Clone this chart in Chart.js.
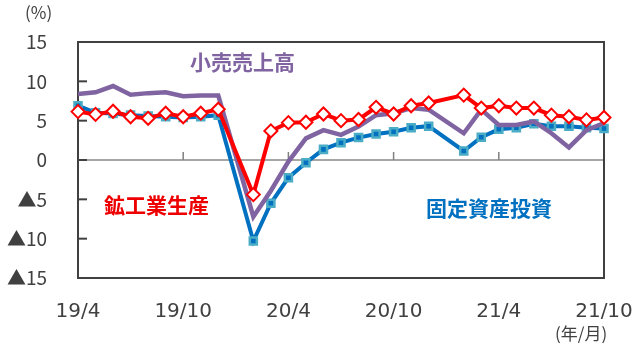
<!DOCTYPE html>
<html>
<head>
<meta charset="utf-8">
<script src="https://cdn.jsdelivr.net/npm/chart.js@4"></script>
<style>
  body { margin: 0; background: #fff; }
  canvas { display: block; }
</style>
</head>
<body>
<canvas id="chart" width="640" height="347"></canvas>
<script>
// 年/月 (2020/1 and 2021/1 are not published separately -> null)
const months = [
  '19/4', '19/5', '19/6', '19/7', '19/8', '19/9', '19/10', '19/11', '19/12',
  '20/1', '20/2', '20/3', '20/4', '20/5', '20/6', '20/7', '20/8', '20/9', '20/10', '20/11', '20/12',
  '21/1', '21/2', '21/3', '21/4', '21/5', '21/6', '21/7', '21/8', '21/9', '21/10'
];

// 鉱工業生産
const industry = [6.15, 5.8, 6.2, 5.5, 5.3, 5.95, 5.5, 5.95, 6.45,
  null, -4.4, 3.7, 4.75, 4.8, 5.85, 5.0, 5.15, 6.7, 5.85, 6.9, 7.25,
  null, 8.25, 6.6, 6.9, 6.6, 6.6, 5.7, 5.5, 5.1, 5.4];

// 小売売上高
const retail = [8.4, 8.6, 9.4, 8.3, 8.5, 8.6, 8.1, 8.2, 8.2,
  null, -7.2, -3.9, -0.2, 2.75, 3.8, 3.2, 4.25, 5.7, 5.95, 6.6, 6.4,
  null, 3.4, 6.4, 4.45, 4.45, 4.9, 3.4, 1.6, 3.8, 4.7];

// 固定資産投資
const investment = [6.9, 6.0, 5.9, 5.7, 5.6, 5.5, 5.4, 5.5, 5.7,
  null, -10.3, -5.5, -2.25, -0.35, 1.35, 2.2, 2.85, 3.3, 3.6, 4.1, 4.3,
  null, 1.15, 2.9, 3.9, 4.1, 4.6, 4.3, 4.3, 4.1, 4.0];

const yTicks = [-15, -10, -5, 0, 5, 10, 15];

const FONT = '"Noto Sans CJK JP", "Noto Sans", sans-serif';
const NUM_FONT = '"DejaVu Sans", "Noto Sans CJK JP", sans-serif';
const AXIS_COLOR = '#404040';

// frame, zero line and the little inside tick marks
const framePlugin = {
  id: 'frame',
  beforeDatasetsDraw(chart) {
    const { ctx, chartArea: a, scales } = chart;
    const y0 = scales.y.getPixelForValue(0);
    ctx.save();
    ctx.strokeStyle = '#a6a6a6';
    ctx.lineWidth = 2;
    ctx.beginPath();
    ctx.moveTo(a.left, y0);
    ctx.lineTo(a.right, y0);
    ctx.stroke();

    ctx.strokeStyle = '#808080';
    ctx.lineWidth = 1.5;
    months.forEach((m, i) => {
      if (i % 6 !== 0 || i === 0 || i === months.length - 1) return;
      const x = scales.x.getPixelForValue(i);
      ctx.beginPath();
      ctx.moveTo(x, y0);
      ctx.lineTo(x, y0 - 8);
      ctx.stroke();
    });

    ctx.strokeStyle = AXIS_COLOR;
    ctx.lineWidth = 2;
    yTicks.forEach(v => {
      if (v === 15 || v === -15) return;
      const y = scales.y.getPixelForValue(v);
      ctx.beginPath();
      ctx.moveTo(a.left, y);
      ctx.lineTo(a.left + 9, y);
      ctx.stroke();
    });
    ctx.strokeRect(a.left, a.top, a.right - a.left, a.bottom - a.top);
    ctx.restore();
  },
  afterDraw(chart) {
    const { ctx } = chart;
    ctx.save();
    ctx.textBaseline = 'middle';
    ctx.fillStyle = AXIS_COLOR;
    ctx.font = '17px ' + FONT;
    ctx.fillText('(%)', 25, 13);
    ctx.fillText('(年/月)', 555, 334);

    ctx.font = 'bold 21px ' + FONT;
    ctx.fillStyle = '#8064a2';
    ctx.fillText('小売売上高', 190, 62);
    ctx.fillStyle = '#ee0000';
    ctx.fillText('鉱工業生産', 104, 205);
    ctx.fillStyle = '#0070c0';
    ctx.fillText('固定資産投資', 426, 208);
    ctx.restore();
  }
};

new Chart(document.getElementById('chart'), {
  type: 'line',
  data: {
    labels: months,
    datasets: [
      {
        label: '鉱工業生産',
        data: industry,
        borderColor: '#ff0000',
        borderWidth: 4,
        pointStyle: 'rectRot',
        pointRadius: 6.5,
        pointBackgroundColor: '#ffffff',
        pointBorderColor: '#ff0000',
        pointBorderWidth: 2,
        spanGaps: true,
        tension: 0,
        clip: false,
      },
      {
        label: '小売売上高',
        data: retail,
        borderColor: '#8064a2',
        borderWidth: 4.5,
        pointRadius: 0,
        spanGaps: true,
        tension: 0,
        clip: false,
      },
      {
        label: '固定資産投資',
        data: investment,
        borderColor: '#0070c0',
        borderWidth: 4,
        pointStyle: 'rect',
        pointRadius: 5,
        pointBackgroundColor: '#0070c0',
        pointBorderColor: '#4bacc6',
        pointBorderWidth: 2.5,
        spanGaps: true,
        tension: 0,
        clip: false,
      },
    ],
  },
  options: {
    responsive: false,
    animation: false,
    layout: { padding: { top: 42, right: 36, left: 0, bottom: 0 } },
    plugins: {
      legend: { display: false },
      tooltip: { enabled: false },
    },
    scales: {
      x: {
        grid: { display: false, drawTicks: false },
        border: { display: false },
        ticks: {
          autoSkip: false,
          maxRotation: 0,
          padding: 22,
          color: AXIS_COLOR,
          font: { size: 20, family: NUM_FONT },
          callback: (v, i) => (i % 6 === 0 ? months[i] : ''),
        },
        afterFit: (s) => {
          s.height = 69;
          s.paddingLeft = 0;
          s.paddingRight = 0;
        },
      },
      y: {
        min: -15,
        max: 15,
        grid: { display: false, drawTicks: false },
        border: { display: false },
        afterBuildTicks: (s) => { s.ticks = yTicks.map(v => ({ value: v })); },
        ticks: {
          padding: 31,
          color: AXIS_COLOR,
          font: { size: 19, family: FONT },
          callback: (v) => (v < 0 ? '▲' + Math.abs(v) : String(v)),
        },
        afterFit: (s) => {
          s.width = 78;
          s.paddingTop = 0;
          s.paddingBottom = 0;
        },
      },
    },
  },
  plugins: [framePlugin],
});
</script>
</body>
</html>
